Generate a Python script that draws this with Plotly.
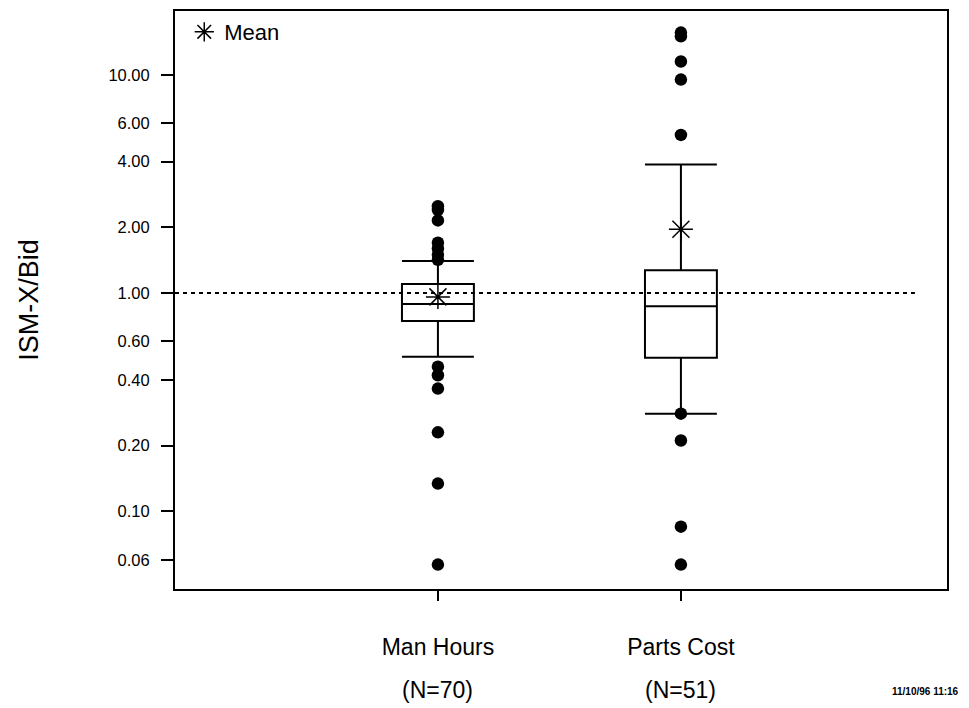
import plotly.graph_objects as go

# ---- data ----
groups = ["Man Hours", "Parts Cost"]
group_n = ["(N=70)", "(N=51)"]
group_pos = [0, 1]
q1 = [0.745, 0.505]
median = [0.89, 0.87]
q3 = [1.10, 1.27]
lower_whisker = [0.51, 0.28]
upper_whisker = [1.40, 3.88]
means = [0.96, 1.96]
outliers_man_hours = [2.50, 2.40, 2.15, 1.70, 1.60, 1.50, 1.42,
                      0.46, 0.42, 0.365, 0.23, 0.134, 0.057]
outliers_parts_cost = [15.6, 15.0, 11.5, 9.5, 5.3,
                       0.28, 0.211, 0.085, 0.057]
reference_value = 1.0
ytick_vals = [0.06, 0.10, 0.20, 0.40, 0.60, 1.00, 2.00, 4.00, 6.00, 10.00]
ytick_text = ["0.06", "0.10", "0.20", "0.40", "0.60", "1.00", "2.00", "4.00", "6.00", "10.00"]
timestamp = "11/10/96 11:16"

FONT = "Liberation Sans, Arial, Helvetica, sans-serif"
X_RANGE = [-1.082, 2.095]
REF_LINE_END = 1.963

fig = go.Figure()

# reference dashed line at 1.0
fig.add_trace(go.Scatter(
    x=[X_RANGE[0], REF_LINE_END], y=[reference_value, reference_value],
    mode="lines", line=dict(color="black", width=1.8, dash="4px,4px"),
    showlegend=False, hoverinfo="skip"))

for i, g in enumerate(groups):
    fig.add_trace(go.Box(
        x=[group_pos[i]], q1=[q1[i]], median=[median[i]], q3=[q3[i]],
        lowerfence=[lower_whisker[i]], upperfence=[upper_whisker[i]],
        name=g, width=0.296, whiskerwidth=1,
        fillcolor="white", line=dict(color="black", width=2),
        boxpoints=False, showlegend=False))

outlier_lists = [outliers_man_hours, outliers_parts_cost]
for i, pts in enumerate(outlier_lists):
    fig.add_trace(go.Scatter(
        x=[group_pos[i]] * len(pts), y=pts, mode="markers",
        marker=dict(color="black", size=12.5, symbol="circle"),
        showlegend=False))

# means
fig.add_trace(go.Scatter(
    x=group_pos, y=means, mode="markers", name="Mean",
    marker=dict(symbol="asterisk-open", size=20, color="black",
                line=dict(color="black", width=1.5)),
    showlegend=True))

for i, n in enumerate(group_n):
    fig.add_annotation(x=group_pos[i], xref="x", y=-0.174, yref="paper",
                       yanchor="middle", text=n, showarrow=False,
                       font=dict(family=FONT, size=23, color="black"))

fig.add_annotation(x=0.972, xref="paper", y=-0.178, yref="paper",
                   xanchor="center", yanchor="middle",
                   text="<b>" + timestamp + "</b>", showarrow=False,
                   font=dict(family=FONT, size=10, color="black"))

fig.update_layout(
    width=969, height=708,
    margin=dict(l=175, r=22, t=9, b=119),
    paper_bgcolor="white", plot_bgcolor="white",
    font=dict(family=FONT, color="black"),
    legend=dict(x=0.012, y=1.0, xanchor="left", yanchor="top",
                bgcolor="rgba(0,0,0,0)", font=dict(size=22, family=FONT),
                itemsizing="trace"),
    xaxis=dict(range=X_RANGE, tickvals=group_pos, ticktext=groups,
               ticks="outside", ticklen=10, tickwidth=1.5, tickcolor="black",
               showline=True, linecolor="black", linewidth=2, mirror=True,
               showgrid=False, zeroline=False,
               tickfont=dict(size=23, family=FONT), ticklabelstandoff=26),
    yaxis=dict(type="log", range=[-1.356, 1.292],
               tickvals=ytick_vals, ticktext=ytick_text,
               ticks="outside", ticklen=12, tickwidth=1.5, tickcolor="black",
               showline=True, linecolor="black", linewidth=2, mirror=True,
               showgrid=False, zeroline=False,
               tickfont=dict(size=16.5, family=FONT), ticklabelstandoff=8,
               title=dict(text="ISM-X/Bid", font=dict(size=27, family=FONT),
                          standoff=62)),
)

fig.write_html("out.html")
